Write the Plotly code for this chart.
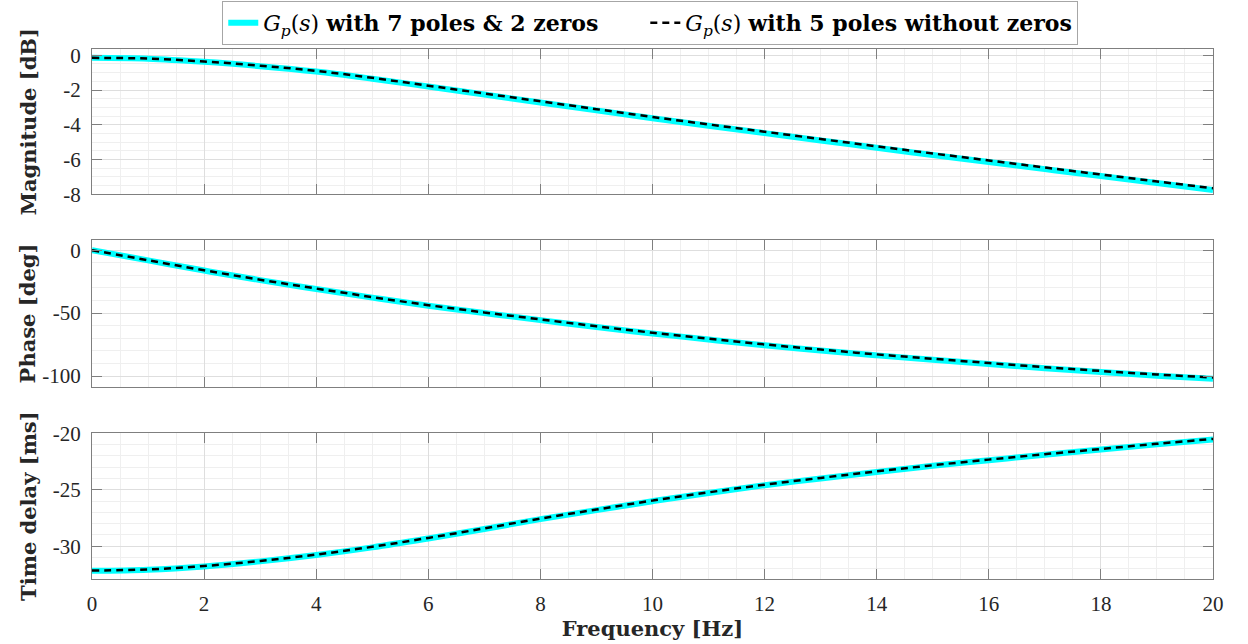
import plotly.graph_objects as go
from plotly.subplots import make_subplots

# Frequency axis (Hz)
freq_hz = [0, 1, 2, 3, 4, 5, 6, 7, 8, 9, 10, 11, 12, 13, 14, 15, 16, 17, 18, 19, 20]

# Model with 7 poles & 2 zeros
mag7_db = [-0.15, -0.20, -0.38, -0.63, -0.94, -1.35, -1.80, -2.26, -2.72, -3.17, -3.62,
           -4.06, -4.48, -4.90, -5.32, -5.74, -6.14, -6.55, -6.95, -7.35, -7.75]
phase7_deg = [0, -8.1, -16.2, -23.8, -30.9, -37.7, -44.2, -50.0, -55.6, -61.1, -66.2,
              -71.0, -75.6, -79.7, -83.6, -87.1, -90.5, -93.8, -96.8, -99.7, -102.1]
delay7_ms = [-32.18, -32.08, -31.79, -31.34, -30.78, -30.10, -29.31, -28.47, -27.60, -26.80, -26.01,
             -25.28, -24.60, -24.00, -23.42, -22.88, -22.38, -21.90, -21.44, -20.98, -20.55]

# Model with 5 poles, no zeros
mag5_db = [-0.15, -0.19, -0.36, -0.60, -0.90, -1.30, -1.75, -2.20, -2.65, -3.10, -3.55,
           -3.98, -4.40, -4.82, -5.24, -5.65, -6.05, -6.46, -6.86, -7.26, -7.65]
phase5_deg = [0, -8.0, -16.0, -23.5, -30.5, -37.3, -43.7, -49.5, -55.0, -60.5, -65.6,
              -70.3, -74.9, -79.0, -82.8, -86.3, -89.7, -93.0, -96.0, -98.8, -101.2]
delay5_ms = [-32.15, -32.05, -31.75, -31.30, -30.74, -30.05, -29.26, -28.42, -27.55, -26.75, -25.96,
             -25.23, -24.55, -23.95, -23.37, -22.83, -22.33, -21.85, -21.39, -20.93, -20.50]

# Tick values / labels
x_ticks = [0, 2, 4, 6, 8, 10, 12, 14, 16, 18, 20]
mag_ticks = [0, -2, -4, -6, -8]
phase_ticks = [0, -50, -100]
delay_ticks = [-20, -25, -30]

name7 = "<i>G</i><sub><i>p</i></sub>(<i>s</i>) <b>with 7 poles &amp; 2 zeros</b>      "
name5 = "<i>G</i><sub><i>p</i></sub>(<i>s</i>) <b>with 5 poles without zeros</b>"

CYAN = "#00ffff"
AX = "#7f7f7f"
TICK_FONT = dict(family="Liberation Serif", size=21, color="#262626")
TITLE_FONT = dict(family="DejaVu Serif", size=21, color="#262626")

fig = make_subplots(rows=3, cols=1, shared_xaxes=False)

panels = [
    (mag7_db, mag5_db),
    (phase7_deg, phase5_deg),
    (delay7_ms, delay5_ms),
]
for i, (y7, y5) in enumerate(panels, start=1):
    fig.add_trace(go.Scatter(x=freq_hz, y=y7, mode="lines", name=name7,
                             line=dict(color=CYAN, width=6, shape="spline"),
                             showlegend=(i == 1)), row=i, col=1)
    fig.add_trace(go.Scatter(x=freq_hz, y=y5, mode="lines", name=name5,
                             line=dict(color="black", width=2.5, dash="7px,5px", shape="spline"),
                             showlegend=(i == 1)), row=i, col=1)

domains = [(0.7258, 1.0), (0.3628, 0.639), (0.0, 0.2749)]
y_ranges = [(-8, 0.36), (-108.5, 7.8), (-32.9, -20)]
y_tickvals = [mag_ticks, phase_ticks, delay_ticks]
y_minor = [0.5, 10, 1]
y_titles = ["<b>Magnitude [dB]</b>", "<b>Phase [deg]</b>", "<b>Time delay [ms]</b>"]
# keep the three y titles on a common vertical line despite different label widths
y_standoffs = [20, 0, 10]

common = dict(showline=True, linecolor=AX, linewidth=1, mirror="ticks",
              ticks="inside", ticklen=10, tickcolor=AX, tickwidth=1,
              showgrid=True, gridcolor="#dedede", gridwidth=1, zeroline=False,
              tickfont=TICK_FONT)

for i in range(3):
    xa = "xaxis" if i == 0 else f"xaxis{i + 1}"
    ya = "yaxis" if i == 0 else f"yaxis{i + 1}"
    fig.layout[xa].update(
        range=[0, 20], tickvals=x_ticks, ticktext=[str(v) for v in x_ticks],
        showticklabels=(i == 2), ticklabelstandoff=6,
        minor=dict(dtick=0.5, showgrid=True, gridcolor="#efefef", gridwidth=1, ticks=""),
        **common)
    fig.layout[ya].update(
        domain=list(domains[i]), range=list(y_ranges[i]),
        tickvals=y_tickvals[i], ticktext=[str(v) for v in y_tickvals[i]],
        ticklabelstandoff=6,
        minor=dict(dtick=y_minor[i], showgrid=True, gridcolor="#efefef", gridwidth=1, ticks=""),
        title=dict(text=y_titles[i], font=TITLE_FONT, standoff=y_standoffs[i]),
        **common)

fig.layout.xaxis3.update(title=dict(text="<b>Frequency [Hz]</b>", font=TITLE_FONT, standoff=4))

fig.update_layout(
    width=1248, height=644,
    margin=dict(l=92, r=35, t=49, b=65, autoexpand=False),
    paper_bgcolor="white", plot_bgcolor="white",
    legend=dict(orientation="h", x=0.498, xanchor="center", y=1.0906, yanchor="top",
                bgcolor="white", bordercolor="#a6a6a6", borderwidth=1,
                font=dict(family="DejaVu Serif", size=22, color="black"),
                itemwidth=30, tracegroupgap=0),
)

fig.write_html("out.html")
